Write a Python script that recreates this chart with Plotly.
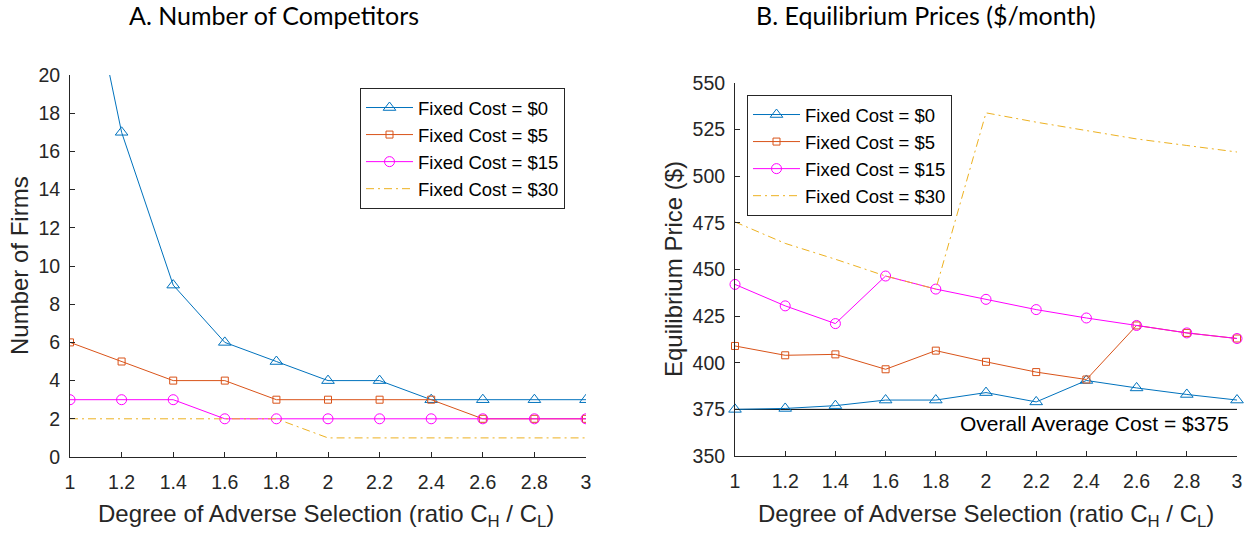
import plotly.graph_objects as go

ratio = [1, 1.2, 1.4, 1.6, 1.8, 2, 2.2, 2.4, 2.6, 2.8, 3]
series_names = ["Fixed Cost = $0", "Fixed Cost = $5", "Fixed Cost = $15", "Fixed Cost = $30"]

firms_fc0 = [30, 17, 9, 6, 5, 4, 4, 3, 3, 3, 3]
firms_fc5 = [6, 5, 4, 4, 3, 3, 3, 3, 2, 2, 2]
firms_fc15 = [3, 3, 3, 2, 2, 2, 2, 2, 2, 2, 2]
firms_fc30 = [2, 2, 2, 2, 2, 1, 1, 1, 1, 1, 1]

price_fc0 = [375, 375.5, 377, 380, 380, 384, 379, 390.5, 386.5, 383, 380]
price_fc5 = [409, 404, 404.5, 396.5, 406.5, 400.5, 395, 391, 420, 416, 413]
price_fc15 = [442, 430.5, 421, 446.5, 439.5, 434, 428.5, 424, 420, 416, 413]
price_fc30 = [475.5, 464, 455.5, 446.5, 439.5, 534, 529, 524.5, 520, 516.5, 513]

avg_cost = 375
x_ticks = [1, 1.2, 1.4, 1.6, 1.8, 2, 2.2, 2.4, 2.6, 2.8, 3]
yA_ticks = [0, 2, 4, 6, 8, 10, 12, 14, 16, 18, 20]
yB_ticks = [350, 375, 400, 425, 450, 475, 500, 525, 550]

colors = ["#0072BD", "#D95319", "#FF00FF", "#EDB120"]
symbols = ["triangle-up-open", "square-open", "circle-open", None]
msizes = [11, 7, 10, 0]

W, H = 1248, 537
AX = "#262626"
SANS = "Liberation Sans, Arial, sans-serif"
TICKFONT = dict(family=SANS, size=19.5, color=AX)

fig = go.Figure()

firms = [firms_fc0, firms_fc5, firms_fc15, firms_fc30]
prices = [price_fc0, price_fc5, price_fc15, price_fc30]
DASHDOT = "8px,4px,2px,4px"

for i in range(4):
    dash = "solid" if i < 3 else DASHDOT
    mode = "lines+markers" if i < 3 else "lines"
    mk = dict(symbol=symbols[i], size=msizes[i], color=colors[i], line=dict(width=1, color=colors[i])) if i < 3 else None
    fig.add_trace(go.Scatter(x=ratio, y=firms[i], name=series_names[i], mode=mode,
                             line=dict(color=colors[i], width=1, dash=dash), marker=mk,
                             xaxis="x", yaxis="y", legend="legend"))

fig.add_trace(go.Scatter(x=[ratio[0], ratio[-1]], y=[avg_cost, avg_cost], mode="lines",
                         line=dict(color="black", width=1), showlegend=False,
                         xaxis="x2", yaxis="y2"))
for i in range(4):
    dash = "solid" if i < 3 else DASHDOT
    mode = "lines+markers" if i < 3 else "lines"
    mk = dict(symbol=symbols[i], size=msizes[i], color=colors[i], line=dict(width=1, color=colors[i])) if i < 3 else None
    fig.add_trace(go.Scatter(x=ratio, y=prices[i], name=series_names[i], mode=mode,
                             line=dict(color=colors[i], width=1, dash=dash), marker=mk,
                             xaxis="x2", yaxis="y2", legend="legend2", cliponaxis=False))

def px_x(p):
    return p / W

def px_y(p):
    return 1 - p / H

common_x = dict(showline=True, linecolor=AX, linewidth=1, ticks="inside", ticklen=5,
                tickcolor=AX, tickfont=TICKFONT, showgrid=False, zeroline=False,
                tickvals=x_ticks, ticktext=[f"{v:g}" for v in x_ticks], range=[1, 3],
                ticklabelstandoff=8, automargin=False)
common_y = dict(showline=True, linecolor=AX, linewidth=1, ticks="inside", ticklen=5,
                tickcolor=AX, tickfont=TICKFONT, showgrid=False, zeroline=False,
                ticklabelstandoff=5, automargin=False)

LEGFONT = dict(family=SANS, size=18.5, color="black")
fig.update_layout(
    width=W, height=H, margin=dict(l=0, r=0, t=0, b=0, pad=0, autoexpand=False),
    paper_bgcolor="white", plot_bgcolor="white",
    xaxis=dict(domain=[px_x(70), px_x(586)], anchor="y", **common_x),
    yaxis=dict(domain=[px_y(457), px_y(75)], anchor="x", range=[0, 20], tickvals=yA_ticks, **common_y),
    xaxis2=dict(domain=[px_x(735), px_x(1237)], anchor="y2", **common_x),
    yaxis2=dict(domain=[px_y(456), px_y(83)], anchor="x2", range=[350, 550], tickvals=yB_ticks, **common_y),
    legend=dict(x=px_x(360), y=px_y(88), xanchor="left", yanchor="top", bgcolor="white",
                bordercolor=AX, borderwidth=1, itemwidth=47, font=LEGFONT, tracegroupgap=0),
    legend2=dict(x=px_x(747), y=px_y(95), xanchor="left", yanchor="top", bgcolor="white",
                 bordercolor=AX, borderwidth=1, itemwidth=47, font=LEGFONT, tracegroupgap=0),
    showlegend=True,
)

TITLEFONT = dict(family="Lato, sans-serif", size=25, color="black")
LABELFONT = dict(family=SANS, size=24, color=AX)
xlabel = "Degree of Adverse Selection (ratio C<sub>H</sub> / C<sub>L</sub>)"
annos = [
    dict(text="A. Number of Competitors", x=px_x(274), y=px_y(15), font=TITLEFONT),
    dict(text="B. Equilibrium Prices ($/month)", x=px_x(926), y=px_y(15), font=TITLEFONT),
    dict(text=xlabel, x=px_x(326), y=px_y(515), font=LABELFONT),
    dict(text=xlabel, x=px_x(986), y=px_y(515), font=LABELFONT),
    dict(text="Number of Firms", x=px_x(19), y=px_y(266), font=LABELFONT, textangle=-90),
    dict(text="Equilibrium Price ($)", x=px_x(673), y=px_y(269), font=LABELFONT, textangle=-90),
]
for a in annos:
    fig.add_annotation(xref="paper", yref="paper", showarrow=False, xanchor="center", yanchor="middle", **a)

fig.add_annotation(text="Overall Average Cost = $375", xref="x2", yref="y2", x=2.975, y=367.5,
                   xanchor="right", yanchor="middle", showarrow=False,
                   font=dict(family=SANS, size=21, color="black"))

fig.write_html("out.html")
